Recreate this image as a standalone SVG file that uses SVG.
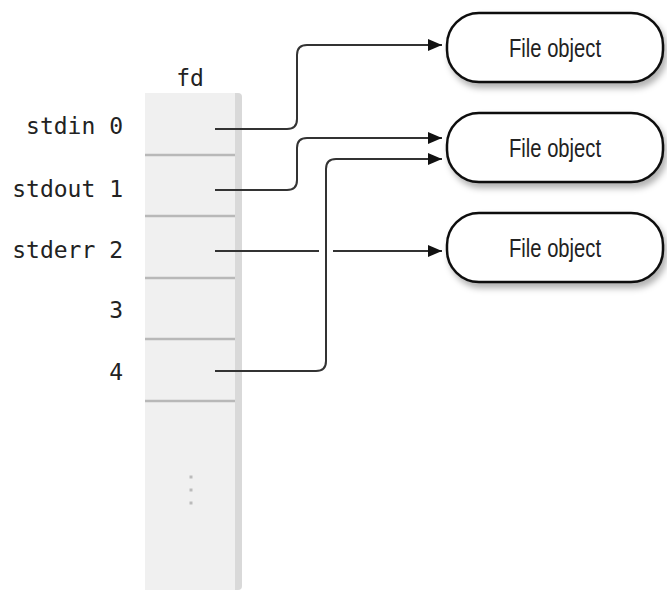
<svg xmlns="http://www.w3.org/2000/svg" width="667" height="591" viewBox="0 0 667 591">
<style>
.lbl{font-family:"DejaVu Sans Mono","Liberation Mono",monospace;font-size:23px;fill:#222;text-anchor:end}
.fo{font-family:"Liberation Sans",Arial,sans-serif;font-size:26px;fill:#222;text-anchor:middle}
.box{fill:#fff;stroke:#111;stroke-width:2.5}
.sep{stroke:#b8b8b8;stroke-width:2.5}
.con{fill:none;stroke:#333;stroke-width:2}
</style>
<defs>
<marker id="arr" markerWidth="16" markerHeight="12" refX="14" refY="6" orient="auto" markerUnits="userSpaceOnUse">
<path d="M0,0 L14,6 L0,12 Z" fill="#111"/>
</marker>
<filter id="sh" x="-10%" y="-20%" width="130%" height="160%">
<feDropShadow dx="3" dy="5" stdDeviation="3" flood-color="#000" flood-opacity="0.3"/>
</filter>
</defs>
<g id="fd-table">
<rect x="145" y="93" width="97" height="497" fill="#d9d9d9" rx="4"/>
<rect x="145" y="93" width="90" height="497" fill="#f0f0f0"/>
<line class="sep" x1="145" y1="155" x2="235" y2="155"/>
<line class="sep" x1="145" y1="216" x2="235" y2="216"/>
<line class="sep" x1="145" y1="278" x2="235" y2="278"/>
<line class="sep" x1="145" y1="339" x2="235" y2="339"/>
<line class="sep" x1="145" y1="401" x2="235" y2="401" stroke-width="3.5"/>
<rect x="189.5" y="475.5" width="3" height="3" fill="#bbb"/>
<rect x="189.5" y="488.5" width="3" height="3" fill="#bbb"/>
<rect x="189.5" y="501.5" width="3" height="3" fill="#bbb"/>
<text x="190" y="86" class="lbl" style="text-anchor:middle">fd</text>
<text x="123" y="134" class="lbl">stdin 0</text>
<text x="123" y="197" class="lbl">stdout 1</text>
<text x="123" y="258" class="lbl">stderr 2</text>
<text x="123" y="318" class="lbl">3</text>
<text x="123" y="380" class="lbl">4</text>
</g>
<g id="connectors">
<path class="con" d="M215,129 H287 Q297,129 297,119 V55 Q297,45 307,45 H442" marker-end="url(#arr)"/>
<path class="con" d="M215,190 H287 Q297,190 297,180 V148 Q297,138 307,138 H442" marker-end="url(#arr)"/>
<path class="con" d="M215,371 H316 Q326,371 326,361 V169 Q326,159 336,159 H442" marker-end="url(#arr)"/>
<path class="con" d="M215,251 H319"/>
<path class="con" d="M333,251 H442" marker-end="url(#arr)"/>
</g>
<g id="file1">
<rect class="box" x="447" y="13" width="216" height="69" rx="32" filter="url(#sh)"/>
<text class="fo" x="555" y="57" textLength="92" lengthAdjust="spacingAndGlyphs">File object</text>
</g>
<g id="file2">
<rect class="box" x="447" y="113" width="216" height="69" rx="32" filter="url(#sh)"/>
<text class="fo" x="555" y="157" textLength="92" lengthAdjust="spacingAndGlyphs">File object</text>
</g>
<g id="file3">
<rect class="box" x="447" y="213" width="216" height="69" rx="32" filter="url(#sh)"/>
<text class="fo" x="555" y="257" textLength="92" lengthAdjust="spacingAndGlyphs">File object</text>
</g>
</svg>
